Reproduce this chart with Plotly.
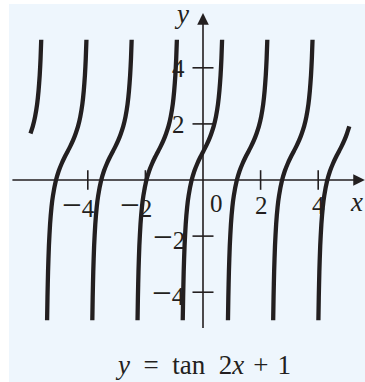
import plotly.graph_objects as go

# Centres of the tangent branches (where y = 1)
branch_centers = [-6.28, -4.71, -3.14, -1.57, 0.0, 1.57, 3.14, 4.71]
# First / last point of the common branch shape that each branch draws
branch_first = [14, 0, 0, 0, 0, 0, 0, 0]
branch_last = [21, 21, 21, 21, 21, 21, 21, 15]

# Shape of one branch: offset from centre and y value
shape_dx = [-0.703, -0.69, -0.67, -0.64, -0.60, -0.55, -0.50, -0.40, -0.30, -0.20, -0.10,
            0.0, 0.10, 0.20, 0.29, 0.37, 0.45, 0.52, 0.57, 0.61, 0.64, 0.663]
shape_y = [-5.0, -4.18, -3.26, -2.34, -1.57, -0.96, -0.56, -0.03, 0.32, 0.58, 0.80,
           1.0, 1.20, 1.42, 1.66, 1.91, 2.26, 2.70, 3.18, 3.73, 4.34, 5.0]

x_ticks = [-4, -2, 2, 4]
x_tick_text = ["\u22124", "\u22122", "2", "4"]
y_ticks = [-4, -2, 2, 4]
y_tick_text = ["\u22124", "\u22122", "2", "4"]

ink = "#231F20"
font = "Liberation Serif"


def label(t):
    # the book uses a long minus sign
    return t.replace("\u2212", '<span style="font-size:35px">\u2212</span>')


fig = go.Figure()

for c, i0, i1 in zip(branch_centers, branch_first, branch_last):
    fig.add_trace(go.Scatter(
        x=[c + d for d in shape_dx[i0:i1 + 1]], y=shape_y[i0:i1 + 1],
        mode="lines", line=dict(color=ink, width=4.3, shape="spline", smoothing=0.6),
        hoverinfo="skip"))

# tick marks on the axes
fig.add_trace(go.Scatter(x=x_ticks, y=[0] * len(x_ticks), mode="markers",
                         marker=dict(symbol="line-ns", size=14, line=dict(color=ink, width=1.6))))
fig.add_trace(go.Scatter(x=[0] * len(y_ticks), y=y_ticks, mode="markers",
                         marker=dict(symbol="line-ew", size=15, line=dict(color=ink, width=1.6))))

ann = []
# axis lines with arrows
ann.append(dict(x=5.62, y=0, ax=-6.67, ay=0, xref="x", yref="y", axref="x", ayref="y",
                showarrow=True, arrowhead=2, arrowsize=1.45, arrowwidth=1.6, arrowcolor=ink, text=""))
ann.append(dict(x=0, y=5.95, ax=0, ay=-5.33, xref="x", yref="y", axref="x", ayref="y",
                showarrow=True, arrowhead=2, arrowsize=1.45, arrowwidth=1.6, arrowcolor=ink, text=""))

for v, t in zip(x_ticks, x_tick_text):
    ann.append(dict(x=v, y=0, text=label(t), showarrow=False, xanchor="right", yanchor="middle",
                    xshift=9, yshift=-25, font=dict(family=font, size=25, color=ink)))
ann.append(dict(x=0, y=0, text="0", showarrow=False, xanchor="left", yanchor="middle",
                xshift=5, yshift=-23, font=dict(family=font, size=25, color=ink)))
for v, t in zip(y_ticks, y_tick_text):
    ann.append(dict(x=0, y=v, text=label(t), showarrow=False, xanchor="right", yanchor="middle",
                    xshift=-16, yshift=-1, font=dict(family=font, size=25, color=ink)))

ann.append(dict(x=5.625, y=0, text="<i>x</i>", showarrow=False, xanchor="right", yanchor="middle",
                yshift=-22, font=dict(family=font, size=27, color=ink)))
ann.append(dict(x=0, y=5.95, text="<i>y</i>", showarrow=False, xanchor="right", yanchor="middle",
                xshift=-12, yshift=-1, font=dict(family=font, size=27, color=ink)))
ann.append(dict(x=0, y=-6.6,
                text="<i>y</i>\u2002=\u2002tan\u20022<i>x</i>\u2004+\u20041",
                showarrow=False, xanchor="center", yanchor="middle",
                font=dict(family=font, size=27, color=ink)))

fig.update_layout(
    width=365, height=382,
    margin=dict(l=9, r=0, t=4, b=0),
    paper_bgcolor="white",
    plot_bgcolor="#EEF6FD",
    showlegend=False,
    annotations=ann,
    xaxis=dict(range=[-6.736, 5.625], visible=False, fixedrange=True),
    yaxis=dict(range=[-7.201, 6.275], visible=False, fixedrange=True),
)

# drop the page's default 8 px body margin so the figure fills the window
fig.write_html("out.html", config={"displayModeBar": False},
               post_script="document.body.style.margin='0';")
